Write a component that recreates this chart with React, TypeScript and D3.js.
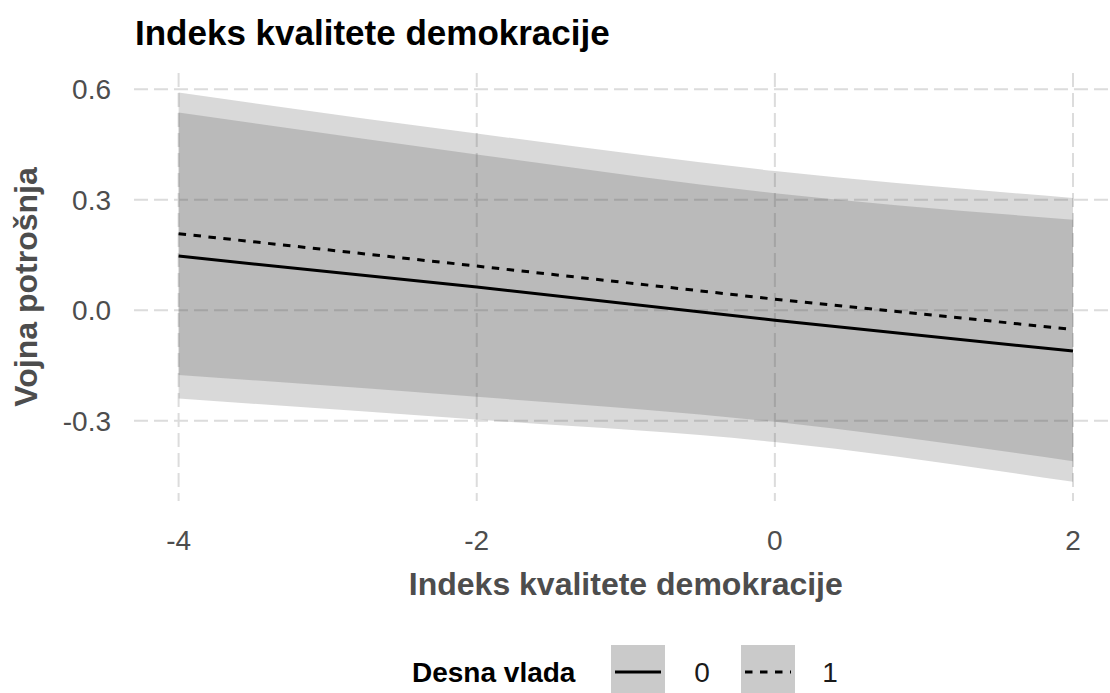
import React from "react";
import * as d3 from "d3";

// Data
const xValues = [-4, -2, 0, 2];
const fit0 = [0.147, 0.063, -0.027, -0.111];
const lo0 = [-0.24, -0.297, -0.358, -0.466];
const hi0 = [0.537, 0.423, 0.318, 0.246];
const fit1 = [0.208, 0.12, 0.03, -0.052];
const lo1 = [-0.176, -0.235, -0.303, -0.41];
const hi1 = [0.591, 0.48, 0.378, 0.305];

const xTicks = [-4, -2, 0, 2];
const xTickLabels = ["-4", "-2", "0", "2"];
const yTicks = [-0.3, 0, 0.3, 0.6];
const yTickLabels = ["-0.3", "0.0", "0.3", "0.6"];
const groupLabels = ["0", "1"];

const FONT = "'Liberation Sans', Arial, Helvetica, sans-serif";

export default function App() {
  const W = 1110;
  const H = 693;
  const x = d3.scaleLinear().domain([-4, 2]).range([178.6, 1073]);
  const y = d3.scaleLinear().domain([-0.3, 0.6]).range([420.7, 89.3]);
  const panel = { left: 134, right: 1110, top: 73, bottom: 501 };

  const area = (lo: number[], hi: number[]) =>
    d3
      .area<number>()
      .x((d) => x(d))
      .y0((_, i) => y(lo[i]))
      .y1((_, i) => y(hi[i]))
      .curve(d3.curveMonotoneX)(xValues) || "";

  const line = (fit: number[]) =>
    d3
      .line<number>()
      .x((d) => x(d))
      .y((_, i) => y(fit[i]))(xValues) || "";

  const ribbons = [
    { lo: lo0, hi: hi0 },
    { lo: lo1, hi: hi1 },
  ];
  const lines = [
    { fit: fit0, dash: undefined as string | undefined },
    { fit: fit1, dash: "7.5 7.5" },
  ];

  const gridColor = "#dcdcdc";
  const gridDash = "14 6";

  // legend layout
  const legendY = 672;
  const keySize = 54;
  const keys = [
    { kx: 611, label: groupLabels[0], lx: 702, dash: undefined as string | undefined },
    { kx: 741, label: groupLabels[1], lx: 830, dash: "7.5 7.5" },
  ];

  return (
    <svg
      width={W}
      height={H}
      viewBox={`0 0 ${W} ${H}`}
      style={{ position: "absolute", left: 0, top: 0, background: "#fff" }}
      fontFamily={FONT}
    >
      <rect x={0} y={0} width={W} height={H} fill="#ffffff" />

      {/* grid */}
      {yTicks.map((t) => (
        <line
          key={"gy" + t}
          x1={panel.left}
          x2={panel.right}
          y1={y(t)}
          y2={y(t)}
          stroke={gridColor}
          strokeWidth={2}
          strokeDasharray={gridDash}
        />
      ))}
      {xTicks.map((t) => (
        <line
          key={"gx" + t}
          x1={x(t)}
          x2={x(t)}
          y1={panel.top}
          y2={panel.bottom}
          stroke={gridColor}
          strokeWidth={2}
          strokeDasharray={gridDash}
        />
      ))}

      {/* ribbons */}
      {ribbons.map((r, i) => (
        <path key={"rib" + i} d={area(r.lo, r.hi)} fill="#414141" fillOpacity={0.2} />
      ))}

      {/* lines */}
      {lines.map((l, i) => (
        <path
          key={"ln" + i}
          d={line(l.fit)}
          fill="none"
          stroke="#000"
          strokeWidth={3}
          strokeDasharray={l.dash}
        />
      ))}

      {/* y tick labels */}
      {yTicks.map((t, i) => (
        <text
          key={"yl" + t}
          x={111}
          y={y(t)}
          dy="0.36em"
          textAnchor="end"
          fontSize={28}
          fill="#4d4d4d"
        >
          {yTickLabels[i]}
        </text>
      ))}

      {/* x tick labels */}
      {xTicks.map((t, i) => (
        <text
          key={"xl" + t}
          x={x(t)}
          y={550}
          textAnchor="middle"
          fontSize={28}
          fill="#4d4d4d"
        >
          {xTickLabels[i]}
        </text>
      ))}

      {/* axis titles */}
      <text
        x={(x(-4) + x(2)) / 2}
        y={595}
        textAnchor="middle"
        fontSize={32}
        fontWeight="bold"
        fill="#4d4d4d"
      >
        Indeks kvalitete demokracije
      </text>
      <text
        transform={`translate(36.5, ${(panel.top + panel.bottom) / 2}) rotate(-90)`}
        textAnchor="middle"
        fontSize={32}
        fontWeight="bold"
        fill="#4d4d4d"
      >
        Vojna potrošnja
      </text>

      {/* title */}
      <text x={135} y={45} fontSize={35} fontWeight="bold" fill="#000">
        Indeks kvalitete demokracije
      </text>

      {/* legend */}
      <text x={412} y={legendY + 10} fontSize={28} fontWeight="bold" fill="#000">
        Desna vlada
      </text>
      {keys.map((k, i) => (
        <g key={"key" + i}>
          <rect x={k.kx} y={legendY - keySize / 2} width={keySize} height={keySize} fill="#cacaca" />
          <line
            x1={k.kx + 4}
            x2={k.kx + keySize - 4}
            y1={legendY}
            y2={legendY}
            stroke="#000"
            strokeWidth={3}
            strokeDasharray={k.dash}
          />
          <text x={k.lx} y={legendY + 10} textAnchor="middle" fontSize={28} fill="#1a1a1a">
            {k.label}
          </text>
        </g>
      ))}
    </svg>
  );
}
